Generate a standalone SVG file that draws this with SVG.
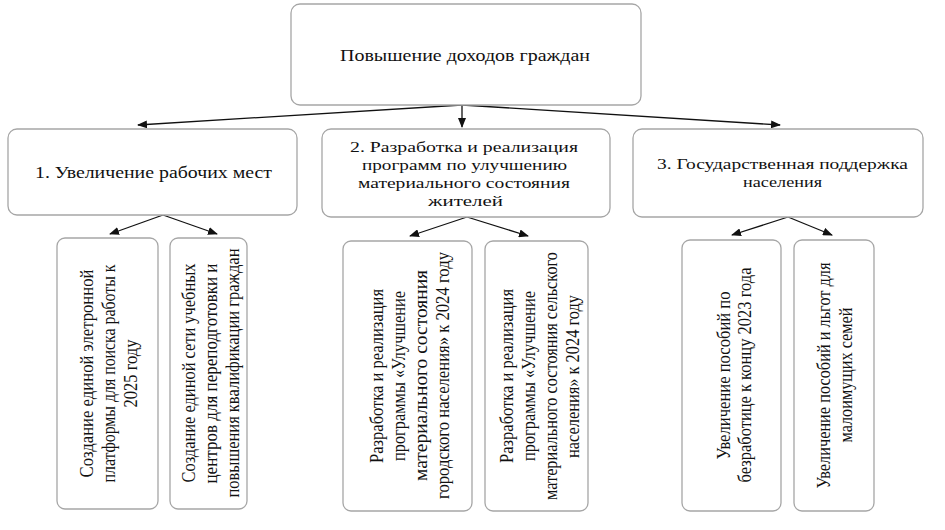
<svg xmlns="http://www.w3.org/2000/svg" width="945" height="530" viewBox="0 0 945 530">
<style>
.box{fill:#fff;stroke:#a6a6a6;stroke-width:1.3}
.t{font-family:"Liberation Serif","DejaVu Serif",serif;font-size:15.5px;fill:#111}
.t1{font-family:"Liberation Serif","DejaVu Serif",serif;font-size:17px;fill:#111}
.v{font-family:"Liberation Serif","DejaVu Serif",serif;font-size:19px;fill:#111}
.c{stroke:#111;stroke-width:1.3;fill:none}
</style>
<defs>
<marker id="ah" markerUnits="userSpaceOnUse" markerWidth="10" markerHeight="8" refX="9" refY="4" orient="auto">
<path d="M0,0 L10,4 L0,8 Z" fill="#111"/>
</marker>
</defs>
<rect width="945" height="530" fill="#fff"/>
<g id="connectors">
<line class="c" x1="462" y1="105" x2="138" y2="125" marker-end="url(#ah)"/>
<line class="c" x1="462" y1="105" x2="462" y2="127" marker-end="url(#ah)"/>
<line class="c" x1="462" y1="105" x2="780" y2="125" marker-end="url(#ah)"/>
<line class="c" x1="163" y1="215" x2="110" y2="234" marker-end="url(#ah)"/>
<line class="c" x1="163" y1="215" x2="217" y2="234" marker-end="url(#ah)"/>
<line class="c" x1="467" y1="217" x2="410" y2="236" marker-end="url(#ah)"/>
<line class="c" x1="467" y1="217" x2="528" y2="236" marker-end="url(#ah)"/>
<line class="c" x1="788" y1="217" x2="732" y2="235" marker-end="url(#ah)"/>
<line class="c" x1="788" y1="217" x2="832" y2="235" marker-end="url(#ah)"/>
</g>
<g id="root">
<rect class="box" x="291" y="4" width="350" height="101" rx="9"/>
<text class="t1" x="340" y="61" textLength="250" lengthAdjust="spacingAndGlyphs">Повышение доходов граждан</text>
</g>
<g id="n1">
<rect class="box" x="8" y="129" width="289" height="86" rx="9"/>
<text class="t1" x="35" y="178" textLength="237" lengthAdjust="spacingAndGlyphs">1. Увеличение рабочих мест</text>
</g>
<g id="n2">
<rect class="box" x="322" y="129" width="288" height="88" rx="9"/>
<text class="t" x="350" y="152" textLength="228" lengthAdjust="spacingAndGlyphs">2. Разработка и реализация</text>
<text class="t" x="362" y="170" textLength="205" lengthAdjust="spacingAndGlyphs">программ по улучшению</text>
<text class="t" x="358" y="188" textLength="212" lengthAdjust="spacingAndGlyphs">материального состояния</text>
<text class="t" x="428" y="206" textLength="75" lengthAdjust="spacingAndGlyphs">жителей</text>
</g>
<g id="n3">
<rect class="box" x="633" y="129" width="290" height="88" rx="9"/>
<text class="t" x="657" y="169" textLength="251" lengthAdjust="spacingAndGlyphs">3. Государственная поддержка</text>
<text class="t" x="743" y="187" textLength="79" lengthAdjust="spacingAndGlyphs">населения</text>
</g>
<g id="n1a">
<rect class="box" x="57" y="238" width="101" height="271" rx="8"/>
<g transform="translate(0,373.5) rotate(-90)">
<text class="v" x="-104" y="93" textLength="208" lengthAdjust="spacingAndGlyphs">Создание единой элетронной</text>
<text class="v" x="-109" y="115" textLength="218" lengthAdjust="spacingAndGlyphs">платформы для поиска работы к</text>
<text class="v" x="-34" y="137" textLength="68" lengthAdjust="spacingAndGlyphs">2025 году</text>
</g>
</g>
<g id="n1b">
<rect class="box" x="170" y="238" width="77" height="271" rx="8"/>
<g transform="translate(0,373.5) rotate(-90)">
<text class="v" x="-109" y="195" textLength="219" lengthAdjust="spacingAndGlyphs">Создание единой сети учебных</text>
<text class="v" x="-110" y="217" textLength="220" lengthAdjust="spacingAndGlyphs">центров для переподготовки и</text>
<text class="v" x="-124" y="239" textLength="249" lengthAdjust="spacingAndGlyphs">повышения квалификации граждан</text>
</g>
</g>
<g id="n2a">
<rect class="box" x="343" y="241" width="129" height="270" rx="8"/>
<g transform="translate(0,376) rotate(-90)">
<text class="v" x="-87" y="383" textLength="174" lengthAdjust="spacingAndGlyphs">Разработка и реализация</text>
<text class="v" x="-85" y="405" textLength="170" lengthAdjust="spacingAndGlyphs">программы «Улучшение</text>
<text class="v" x="-105" y="427" textLength="211" lengthAdjust="spacingAndGlyphs">материального состояния</text>
<text class="v" x="-123" y="449" textLength="247" lengthAdjust="spacingAndGlyphs">городского населения» к 2024 году</text>
</g>
</g>
<g id="n2b">
<rect class="box" x="485" y="241" width="103" height="270" rx="8"/>
<g transform="translate(0,376) rotate(-90)">
<text class="v" x="-87" y="513" textLength="174" lengthAdjust="spacingAndGlyphs">Разработка и реализация</text>
<text class="v" x="-85" y="535" textLength="170" lengthAdjust="spacingAndGlyphs">программы «Улучшение</text>
<text class="v" x="-124" y="557" textLength="248" lengthAdjust="spacingAndGlyphs">материального состояния сельского</text>
<text class="v" x="-82" y="579" textLength="163" lengthAdjust="spacingAndGlyphs">населения» к 2024 году</text>
</g>
</g>
<g id="n3a">
<rect class="box" x="682" y="240" width="99" height="271" rx="8"/>
<g transform="translate(0,375.5) rotate(-90)">
<text class="v" x="-84" y="730" textLength="168" lengthAdjust="spacingAndGlyphs">Увеличение пособий по</text>
<text class="v" x="-107" y="751" textLength="215" lengthAdjust="spacingAndGlyphs">безработице к концу 2023 года</text>
</g>
</g>
<g id="n3b">
<rect class="box" x="794" y="240" width="80" height="271" rx="8"/>
<g transform="translate(0,375.5) rotate(-90)">
<text class="v" x="-113" y="830" textLength="226" lengthAdjust="spacingAndGlyphs">Увеличение пособий и льгот для</text>
<text class="v" x="-67" y="852" textLength="135" lengthAdjust="spacingAndGlyphs">малоимущих семей</text>
</g>
</g>
</svg>
